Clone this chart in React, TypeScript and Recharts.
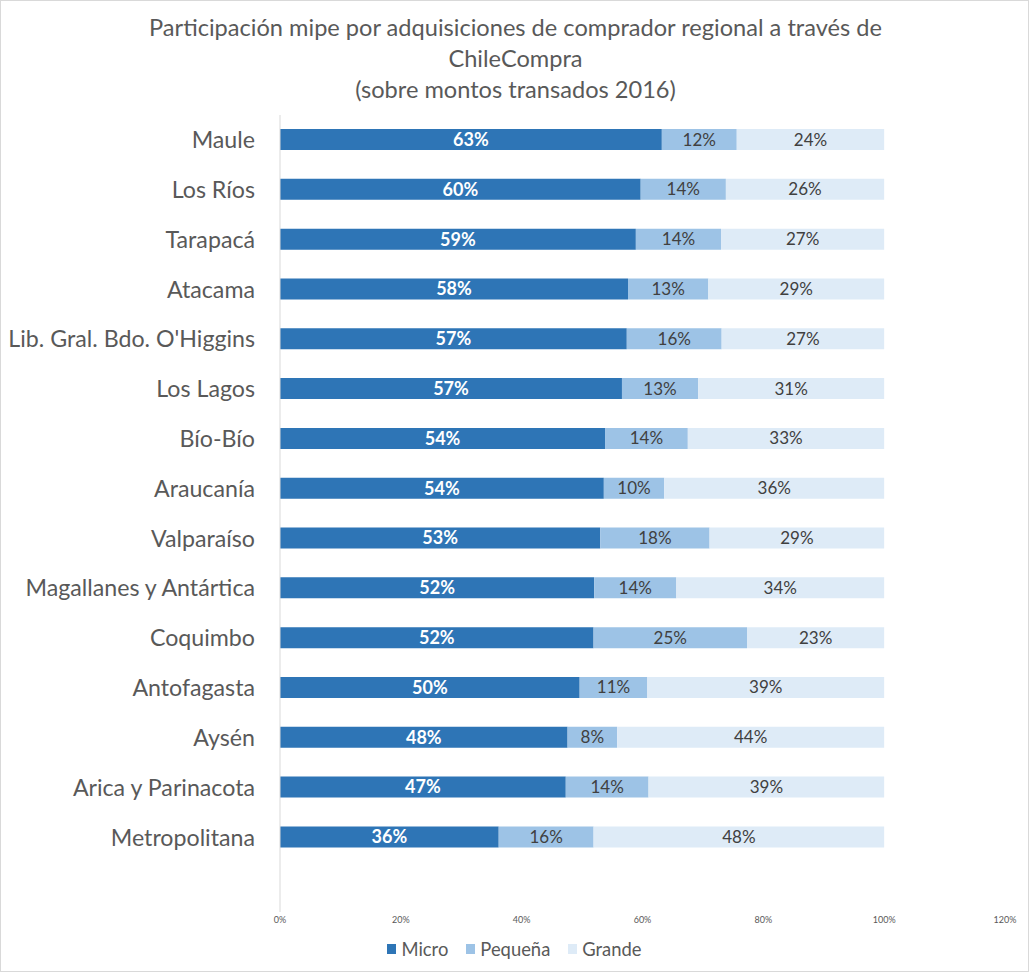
import React from "react";
import { BarChart, Bar, XAxis, YAxis, Legend, LabelList } from "recharts";

const regions = [
  "Maule",
  "Los Ríos",
  "Tarapacá",
  "Atacama",
  "Lib. Gral. Bdo. O'Higgins",
  "Los Lagos",
  "Bío-Bío",
  "Araucanía",
  "Valparaíso",
  "Magallanes y Antártica",
  "Coquimbo",
  "Antofagasta",
  "Aysén",
  "Arica y Parinacota",
  "Metropolitana",
  "",
];

const micro = [0.632, 0.597, 0.589, 0.576, 0.574, 0.566, 0.538, 0.536, 0.53, 0.52, 0.519, 0.496, 0.476, 0.473, 0.362];
const pequena = [0.124, 0.141, 0.141, 0.133, 0.157, 0.126, 0.137, 0.1, 0.181, 0.136, 0.254, 0.112, 0.082, 0.137, 0.157];
const grande = [0.244, 0.262, 0.27, 0.291, 0.269, 0.308, 0.325, 0.364, 0.289, 0.344, 0.227, 0.392, 0.442, 0.39, 0.481];

const xTicks = [0, 0.2, 0.4, 0.6, 0.8, 1.0, 1.2];

const seriesNames = ["Micro", "Pequeña", "Grande"];
const seriesColors = ["#2E75B6", "#9DC3E6", "#DEEBF7"];

const data = regions.map((region, i) => ({
  region,
  micro: micro[i],
  pequena: pequena[i],
  grande: grande[i],
}));

const FONT = "Lato, 'Open Sans', sans-serif";

const fmt = (v: any) => (v === null || v === undefined ? "" : `${Math.round(Number(v) * 100)}%`);

const renderLegend = () => (
  <div
    style={{
      display: "flex",
      justifyContent: "center",
      alignItems: "center",
      fontFamily: FONT,
      fontSize: 18.4,
      color: "#595959",
    }}
  >
    {seriesNames.map((name, i) => (
      <div key={name} style={{ display: "flex", alignItems: "center", marginRight: i < 2 ? 18 : 0 }}>
        <span
          style={{
            display: "inline-block",
            width: 9,
            height: 10,
            background: seriesColors[i],
            marginRight: 5,
          }}
        />
        <span>{name}</span>
      </div>
    ))}
  </div>
);

export default function App() {
  return (
    <div
      style={{
        position: "absolute",
        top: 0,
        left: 0,
        width: 1029,
        height: 972,
        background: "#fff",
        boxSizing: "border-box",
        border: "1px solid #d9d9d9",
        fontFamily: FONT,
      }}
    >
      <div
        style={{
          position: "absolute",
          top: 11,
          left: 0,
          width: 1029,
          textAlign: "center",
          color: "#595959",
          fontSize: 23.6,
          lineHeight: "31px",
          fontFamily: FONT,
        }}
      >
        Participación mipe por adquisiciones de comprador regional a través de
        <br />
        ChileCompra
        <br />
        (sobre montos transados 2016)
      </div>
      <div style={{ position: "absolute", top: -1, left: -1 }}>
        <BarChart
          width={1029}
          height={972}
          data={data}
          layout="vertical"
          margin={{ top: 115, right: 24, left: 0, bottom: 35 }}
          barSize={21}
        >
          <XAxis
            type="number"
            domain={[0, 1.2]}
            ticks={xTicks}
            tickFormatter={(v: number) => `${Math.round(v * 100)}%`}
            axisLine={false}
            tickLine={false}
            tickSize={0}
            tickMargin={5}
            height={25}
            tick={{ fontSize: 9, fill: "#595959", fontFamily: FONT }}
            interval={0}
          />
          <YAxis
            type="category"
            dataKey="region"
            width={280}
            axisLine={{ stroke: "#D9D9D9" }}
            tickLine={false}
            tickSize={0}
            tickMargin={25}
            interval={0}
            tick={{ fontSize: 23.2, fill: "#595959", fontFamily: FONT }}
          />
          <Legend
            layout="horizontal"
            verticalAlign="middle"
            align="center"
            content={renderLegend}
            wrapperStyle={{ top: 938, left: 0, width: 1029 }}
          />
          <Bar dataKey="micro" name="Micro" stackId="a" fill={seriesColors[0]} isAnimationActive={false}>
            <LabelList
              dataKey="micro"
              position="center"
              formatter={fmt}
              style={{ fill: "#FFFFFF", fontSize: 18, fontWeight: 700, fontFamily: FONT }}
            />
          </Bar>
          <Bar dataKey="pequena" name="Pequeña" stackId="a" fill={seriesColors[1]} isAnimationActive={false}>
            <LabelList
              dataKey="pequena"
              position="center"
              formatter={fmt}
              style={{ fill: "#404040", fontSize: 17, fontFamily: FONT }}
            />
          </Bar>
          <Bar dataKey="grande" name="Grande" stackId="a" fill={seriesColors[2]} isAnimationActive={false}>
            <LabelList
              dataKey="grande"
              position="center"
              formatter={fmt}
              style={{ fill: "#404040", fontSize: 17, fontFamily: FONT }}
            />
          </Bar>
        </BarChart>
      </div>
    </div>
  );
}
